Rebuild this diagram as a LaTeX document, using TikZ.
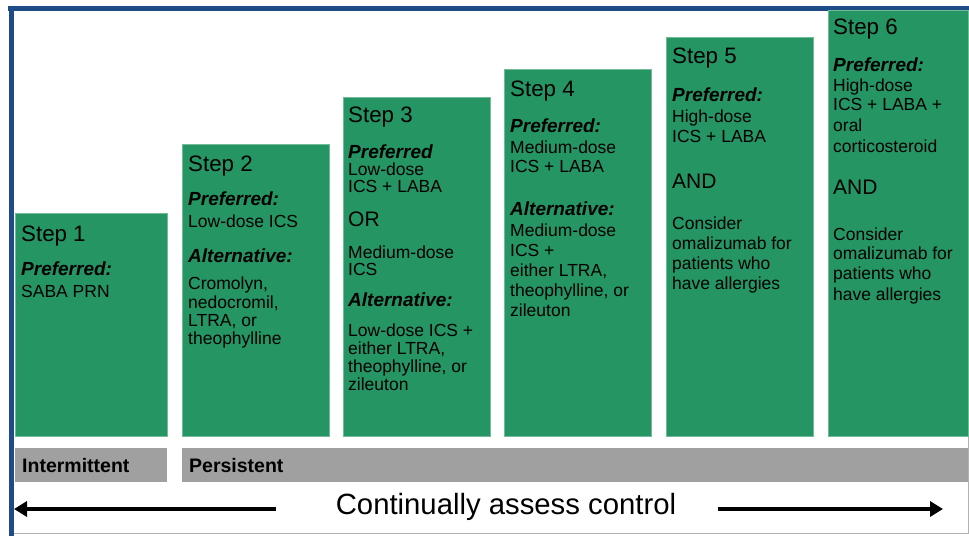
\documentclass[tikz,border=0pt]{standalone}
\usepackage{fontspec}
\setmainfont{Liberation Sans}
\usetikzlibrary{positioning,arrows.meta}

\definecolor{stepgreen}{RGB}{36,149,99}
\definecolor{bargrey}{RGB}{160,160,160}
\definecolor{frameblue}{RGB}{31,76,134}

\newcommand{\stephead}[1]{{\fontsize{22.3}{19}\selectfont #1}}
\newcommand{\prefword}[1]{{\fontsize{19}{19}\selectfont\bfseries\itshape #1}}
\newcommand{\bigword}[1]{{\fontsize{21}{19}\selectfont #1}}

\tikzset{
  stepbox/.style={anchor=north west,inner sep=0pt,fill=stepgreen,draw=stepgreen!65!white,line width=.8pt},
  steptext/.style={align=left,inner sep=0pt,text=black,font=\fontsize{17.5}{19}\selectfont},
  levelbar/.style={anchor=north west,inner xsep=7pt,inner ysep=0pt,fill=bargrey,minimum height=34pt,align=left,font=\fontsize{19.5}{20}\selectfont\bfseries},
  assessarrow/.style={line width=4.5pt,-{Triangle[length=13pt,width=15pt]}}
}

\begin{document}
\begin{tikzpicture}[x=1pt,y=-1pt]
  \useasboundingbox (0,0) rectangle (969,536);
  \fill[white] (0,0) rectangle (969,536);

  % frame
  \draw[gray!60,line width=.8pt] (12,533) -- (968.5,533) -- (968.5,8);
  \draw[frameblue,line width=5pt] (8,8.5) -- (969,8.5);
  \draw[frameblue,line width=5pt] (11.8,6) -- (11.8,536);

  % the six steps
  \node[stepbox,minimum width=152pt,minimum height=223pt] (s1) at (15,213) {};
  \node[stepbox,minimum width=147pt,minimum height=292pt] (s2) at (182,144) {};
  \node[stepbox,minimum width=147pt,minimum height=339pt] (s3) at (343,97) {};
  \node[stepbox,minimum width=147pt,minimum height=367pt] (s4) at (504,69) {};
  \node[stepbox,minimum width=147pt,minimum height=399pt] (s5) at (666,37) {};
  \node[stepbox,minimum width=140pt,minimum height=426pt] (s6) at (828,10) {};

  \node[steptext,below right=13pt and 6pt of s1.north west] (t1) {\stephead{Step 1}\\[15pt]
    \prefword{Preferred:}\\[3pt] SABA PRN};
  \node[steptext,below right=12pt and 6pt of s2.north west] (t2) {\stephead{Step 2}\\[15pt]
    \prefword{Preferred:}\\[3pt] Low-dose ICS\\[16pt]
    \prefword{Alternative:}\\[8pt] Cromolyn,\\ nedocromil,\\[-1pt] LTRA, or\\[-1pt] theophylline};
  \node[steptext,below right=10pt and 5pt of s3.north west] (t3) {\stephead{Step 3}\\[17pt]
    \prefword{Preferred}\\[-2pt] Low-dose\\[-2pt] ICS + LABA\\[15pt]
    \bigword{OR}\\[13pt] Medium-dose\\[-2pt] ICS\\[12pt]
    \prefword{Alternative:}\\[11pt] Low-dose ICS +\\[-1pt] either LTRA,\\[-1pt] theophylline, or\\[-1pt] zileuton};
  \node[steptext,below right=12pt and 6pt of s4.north west] (t4) {\stephead{Step 4}\\[17pt]
    \prefword{Preferred:}\\[2pt] Medium-dose\\ ICS + LABA\\[24pt]
    \prefword{Alternative:}\\[2pt] Medium-dose\\[1pt] ICS +\\[1pt] either LTRA,\\[1pt] theophylline, or\\[1pt] zileuton};
  \node[steptext,below right=11pt and 6pt of s5.north west] (t5) {\stephead{Step 5}\\[19pt]
    \prefword{Preferred:}\\[2pt] High-dose\\[1pt] ICS + LABA\\[27pt]
    \bigword{AND}\\[22pt] Consider\\[1pt] omalizumab for\\[1pt] patients who\\[1pt] have allergies};
  \node[steptext,below right=9pt and 5pt of s6.north west] (t6) {\stephead{Step 6}\\[18pt]
    \prefword{Preferred:}\\[1pt] High-dose\\ ICS + LABA +\\[2pt] oral\\[2pt] corticosteroid\\[23pt]
    \bigword{AND}\\[27pt] Consider\\ omalizumab for\\[1pt] patients who\\[2pt] have allergies};

  % severity bars
  \node[levelbar,text width=138pt] (intermittent) at (15,448) {Intermittent};
  \node[levelbar,text width=772pt] (persistent) at (182,448) {Persistent};

  % assessment line
  \node[anchor=base,inner sep=0pt,font=\fontsize{29.3}{30}\selectfont] (assess) at (506,514) {Continually assess control};
  \coordinate (la) at (276,509);
  \coordinate (lb) at (14,509);
  \coordinate (ra) at (718,509);
  \coordinate (rb) at (943,509);
  \draw[assessarrow] (la) -- (lb);
  \draw[assessarrow] (ra) -- (rb);
\end{tikzpicture}
\end{document}
